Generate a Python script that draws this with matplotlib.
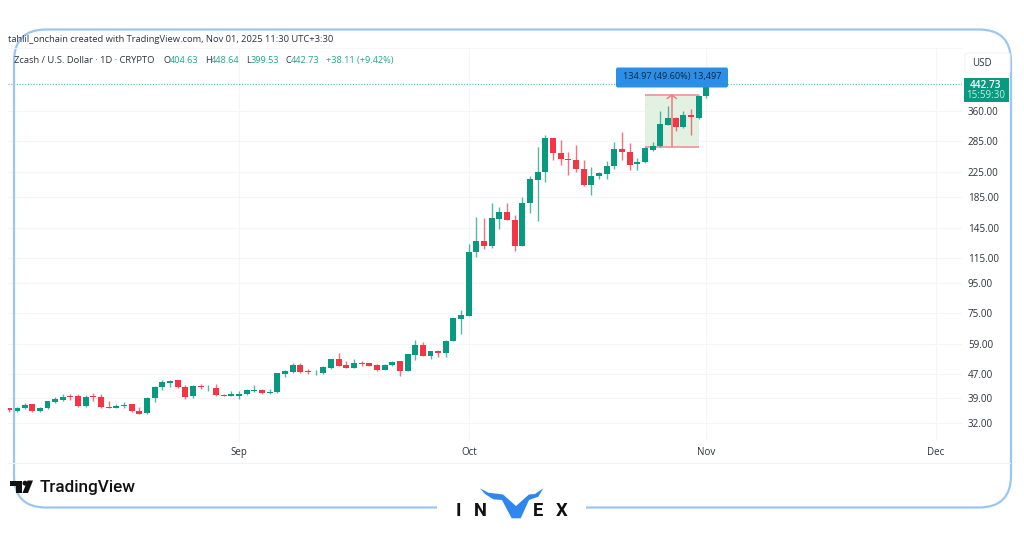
import numpy as np
import pandas as pd
import matplotlib
matplotlib.use('Agg')
import matplotlib.pyplot as plt
import matplotlib.dates as mdates
from matplotlib.patches import FancyBboxPatch, Rectangle, Polygon, Circle

# Daily candles (Aug 2 - Nov 1 2025)
dates = pd.date_range('2025-08-02', periods=92, freq='D')
opens = [35.9, 35.2, 36.0, 37.0, 35.2, 35.9, 37.8, 38.3, 39.4, 39.4, 36.6, 39.5, 39.2, 36.4, 36.1, 36.6,
         37.0, 35.3, 34.6, 38.8, 42.4, 43.8, 44.6, 42.5, 39.4, 42.8, 42.3, 42.0, 39.9, 39.6, 39.6,
         40.2, 41.1, 41.4, 40.4, 40.7, 46.9, 47.7, 50.3, 48.0, 47.5, 47.3, 49.2, 52.5, 50.2, 49.2,
         51.2, 51.0, 50.2, 48.3, 50.2, 51.7, 48.0, 54.4, 58.9, 53.8, 56.2, 55.1, 60.7, 71.6,
         73.6, 120.4, 131.5, 126.4, 156, 165, 155, 126.4, 176.5, 211, 225, 291, 260.5, 249, 247, 229.5,
         203, 217, 220.5, 235, 268.5, 262.5, 238, 242, 267, 274, 324, 341, 319, 350, 342, 404.63]
highs = [36.1, 36.3, 37.3, 37.2, 36.3, 38.0, 39.2, 40.1, 40.0, 40.1, 39.9, 40.5, 40.0, 38.0, 37.2, 37.6,
         37.2, 36.2, 39.2, 42.7, 44.8, 44.9, 44.8, 43.0, 43.0, 43.4, 43.2, 43.3, 40.0, 41.0, 41.1,
         41.6, 43.0, 41.6, 41.6, 47.3, 48.2, 51.2, 51.0, 48.7, 48.2, 49.9, 52.8, 55.1, 51.7, 52.8,
         52.0, 51.2, 50.7, 50.7, 52.0, 52.0, 54.8, 61.0, 60.2, 56.2, 56.6, 61.0, 72.5, 77.0,
         128.4, 158.7, 156.8, 176, 171, 176, 161, 185, 218, 273, 299, 293, 287, 262, 276, 246,
         234, 225, 244, 283, 306, 280, 251, 272, 284, 360, 375, 343, 361, 365, 406, 448.64]
lows = [34.8, 34.9, 35.7, 34.9, 34.8, 35.8, 37.4, 37.9, 38.2, 36.3, 36.4, 38.0, 36.1, 36.0, 35.9, 36.1,
        35.0, 34.4, 34.5, 37.7, 41.3, 42.4, 42.2, 38.7, 39.0, 41.7, 41.0, 39.5, 39.5, 39.5, 38.7,
        39.8, 40.7, 40.0, 40.2, 40.6, 45.7, 47.4, 47.4, 46.9, 46.4, 47.0, 48.7, 49.7, 49.1, 49.1,
        49.7, 49.8, 48.0, 48.2, 49.9, 46.3, 47.9, 52.2, 53.7, 52.6, 53.5, 53.5, 60.5, 63.8,
        73.4, 116.4, 123.2, 124, 144, 154.5, 122, 126, 163, 153, 208, 246, 236, 219, 225, 202,
        188, 212, 212, 230, 246, 228, 228, 241, 265, 272, 322, 308, 315, 299, 339, 399.53]
closes = [35.4, 36.0, 36.9, 35.1, 35.9, 37.9, 38.5, 39.3, 39.1, 36.6, 39.3, 39.1, 36.3, 36.1, 36.7, 36.9,
          35.2, 34.5, 38.9, 42.4, 43.9, 44.5, 42.3, 39.3, 42.7, 42.4, 42.5, 39.7, 39.6, 40.0, 40.2,
          41.3, 41.4, 40.4, 40.9, 47.1, 48.0, 50.4, 47.7, 47.5, 47.7, 49.4, 52.5, 49.9, 49.2, 51.1,
          50.7, 49.9, 48.3, 50.4, 51.6, 48.0, 54.6, 58.9, 53.8, 55.9, 55.1, 60.7, 72.2, 74.1,
          120.4, 131.5, 126.4, 156.8, 165, 154.5, 126.4, 176.5, 212, 225, 291, 259, 248, 247, 229, 203,
          217, 222, 235.5, 268.5, 262.5, 237, 243, 270.5, 275, 325, 341, 319, 350, 344, 404, 442.73]

price_ticks = [32, 39, 47, 59, 75, 95, 115, 145, 185, 225, 285, 360]
month_ticks = ['2025-09-01', '2025-10-01', '2025-11-01', '2025-12-01']
month_labels = ['Sep', 'Oct', 'Nov', 'Dec']
last_price = 442.73
range_low = 272.0
range_high = 407.0
range_start, range_end = '2025-10-24', '2025-10-31'

UP = '#089981'
DOWN = '#f23645'
TEXT = '#2e323c'
GRID = '#f4f5f7'
plt.rcParams['font.family'] = ['Open Sans', 'DejaVu Sans']

W, H = 1024, 538
fig = plt.figure(figsize=(W / 100, H / 100), dpi=100, facecolor='white')

# chart pane sits at these pixel edges
L, R, T, B = 8, 962, 48, 441
ax = fig.add_axes([L / W, 1 - B / H, (R - L) / W, (B - T) / H])
sep1 = mdates.date2num(pd.Timestamp('2025-09-01'))
px_day = 7.66
ax.set_xlim(sep1 + (L - 239) / px_day, sep1 + (R - 239) / px_day)
ax.set_yscale('log')
ax.set_ylim(360 * np.exp((111 - B) / 129), 360 * np.exp((111 - T) / 129))

for s in ax.spines.values():
    s.set_visible(False)
ax.yaxis.tick_right()
ax.set_yticks(price_ticks)
ax.set_yticks([], minor=True)
ax.set_yticklabels(['%.2f' % p for p in price_ticks], fontsize=7.1, color=TEXT)
ax.set_xticks(mdates.date2num(pd.to_datetime(month_ticks)))
ax.set_xticklabels(month_labels, fontsize=7, color=TEXT)
ax.tick_params(axis='x', length=0, pad=4.5)
ax.tick_params(axis='y', length=0, pad=4.3)
ax.grid(True, color=GRID, lw=0.8)
ax.set_axisbelow(True)

# date-range measure box
x0 = mdates.date2num(pd.Timestamp(range_start))
x1 = mdates.date2num(pd.Timestamp(range_end))
xm = (x0 + x1) / 2
ax.fill_between([x0, x1], range_low, range_high, color='#e3f1e3', lw=0, zorder=1)
ax.hlines([range_low, range_high], x0, x1, color='#ef8a8f', lw=1.1, zorder=2)
ax.vlines(xm, range_low, range_high, color='#ef7a80', lw=1.1, zorder=4)
ax.plot([xm - 0.6, xm, xm + 0.6], [range_high * 0.975, range_high, range_high * 0.975],
        color='#ef7a80', lw=1, zorder=4)

# candles
xs = mdates.date2num(dates)
o, h, l, c = map(np.array, (opens, highs, lows, closes))
up = c >= o
colors = np.where(up, UP, DOWN)
ax.vlines(xs, l, h, colors=colors, lw=1.0, alpha=0.7, zorder=3)
ax.bar(xs, np.abs(c - o), bottom=np.minimum(o, c), width=0.78, color=colors, lw=0, zorder=3)

# last price line
ax.axhline(last_price, color='#5fb8a8', lw=0.8, ls=(0, (1, 1.5)), zorder=2)

# overlay in pixel coords for the page furniture
ov = fig.add_axes([0, 0, 1, 1])
ov.set_xlim(0, W)
ov.set_ylim(H, 0)
ov.axis('off')
ov.patch.set_alpha(0)

ov.plot([8, 1010], [463, 463], color='#f0f1f3', lw=0.8)
ov.plot([8, 962], [48, 48], color='#f3f4f6', lw=0.6)

# blue rounded frame, with a gap at the bottom for the logo
ov.add_patch(FancyBboxPatch((14 + 32, 29.5 + 32), 997 - 64, 478 - 64, boxstyle='round,pad=32,rounding_size=32',
                            fc='none', ec='#9cc6f2', lw=1.6, mutation_aspect=1))
ov.add_patch(Rectangle((437, 498), 149, 18, fc='white', ec='none', zorder=3))

ov.text(8, 39.5, 'tahlil_onchain created with TradingView.com, Nov 01, 2025 11:30 UTC+3:30',
        fontsize=6.72, color=TEXT, va='center', ha='left')
ov.text(14, 60.5, 'Zcash / U.S. Dollar · 1D · CRYPTO', fontsize=6.75, color=TEXT, va='center')
for lab, val, xl, xv in [('O', '404.63', 164, 170), ('H', '448.64', 205, 211),
                         ('L', '399.53', 246, 251), ('C', '442.73', 285, 291)]:
    ov.text(xl, 60.5, lab, fontsize=6.6, color=TEXT, va='center')
    ov.text(xv, 60.5, val, fontsize=6.6, color='#22a58c', va='center')
ov.text(326, 60.5, '+38.11 (+9.42%)', fontsize=6.6, color='#22a58c', va='center')

# price tag and USD box
ov.add_patch(Rectangle((964, 78), 45, 24, fc=UP, ec='none', zorder=4))
ov.text(985, 85.5, '442.73', fontsize=7.2, color='white', ha='center', va='center', zorder=5, fontweight='semibold')
ov.text(986, 95, '15:59:30', fontsize=7, color='#cfeae4', ha='center', va='center', zorder=5)
ov.add_patch(FancyBboxPatch((967, 55), 41, 16, boxstyle='round,pad=2,rounding_size=2', fc='white', ec='#f0f1f3', lw=0.7))
ov.text(982, 63, 'USD', fontsize=7, color=TEXT, ha='center', va='center')

# measure label
ov.add_patch(FancyBboxPatch((618, 69.5), 108, 16, boxstyle='round,pad=2,rounding_size=2', fc='#2b8fe8', ec='none', zorder=6))
ov.text(672, 77, '134.97 (49.60%) 13,497', fontsize=6.6, color='#10263f', ha='center', va='center', zorder=7)

# TradingView mark
ov.add_patch(Polygon([(9.5, 480.5), (22, 480.5), (22, 493), (15.5, 493), (15.5, 486), (9.5, 486)], fc='#111111', ec='none', zorder=5))
ov.add_patch(Circle((25, 483.2), 2.5, fc='#111111', ec='none', zorder=5))
ov.add_patch(Polygon([(27.5, 480.5), (33, 480.5), (28, 493), (22.5, 493)], fc='#111111', ec='none', zorder=5))
ov.text(40, 487.5, 'TradingView', fontsize=12.3, color='#111111', fontweight='medium', va='center', family=['Roboto', 'DejaVu Sans'], zorder=5)

# INVEX mark
for ch, xc in [('I', 458), ('N', 480), ('E', 538), ('X', 562)]:
    ov.text(xc, 510.5, ch, fontsize=13.2, color='#111111', ha='center', va='center', fontweight='bold', family=['Roboto', 'DejaVu Sans'], zorder=5)
ov.add_patch(Polygon([(480, 488.3), (488.3, 492.7), (503, 494.5), (516, 506), (529, 494.5), (535, 494), (543.3, 488.3),
                      (538.3, 496.7), (529, 500), (520.7, 518.3), (511.7, 518.3), (502, 500),
                      (493.3, 499.3), (485, 494)], fc='#2f86ee', ec='none', zorder=5))

fig.savefig('out.png', dpi=100, facecolor='white')
